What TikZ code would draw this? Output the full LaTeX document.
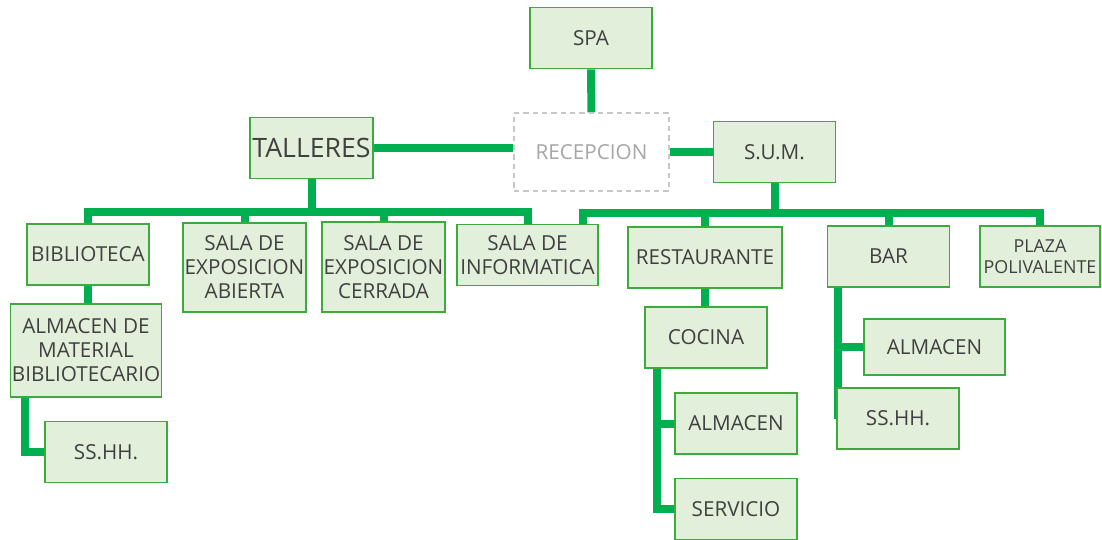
\documentclass[tikz,border=0pt]{standalone}
\usepackage{fontspec}
\setmainfont{Open Sans}
\usetikzlibrary{backgrounds}
\definecolor{boxfill}{HTML}{E2EFDA}
\definecolor{boxline}{HTML}{3DAA3D}
\definecolor{linkgreen}{HTML}{00B050}
\definecolor{textgray}{HTML}{404040}
\definecolor{ghostline}{HTML}{C8C8C8}
\definecolor{ghosttext}{HTML}{A6A6A6}

\begin{document}
\begin{tikzpicture}[x=0.75pt,y=-0.75pt]
\tikzset{
  orgbox/.style={rectangle,draw=boxline,fill=boxfill,line width=1pt,minimum width=91.5pt,minimum height=46pt,inner sep=1pt,align=center,text=textgray,font=\fontsize{15.5pt}{18pt}\selectfont},
  ghostbox/.style={orgbox,draw=ghostline,fill=white,text=ghosttext,dash pattern=on 4pt off 3pt},
  orglink/.style={draw=linkgreen,line width=6pt,line join=miter}
}
\useasboundingbox (0,0) rectangle (1102,539);
\node[orgbox] (n_spa) at (591,38) {SPA};
\node[orgbox,minimum width=92.25pt,font=\fontsize{20pt}{23pt}\selectfont] (n_talleres) at (311.5,148) {TALLERES};
\node[ghostbox,minimum width=116.25pt,minimum height=58.5pt,font=\fontsize{15.5pt}{18pt}\selectfont] (n_recepcion) at (591.5,152) {RECEPCION};
\node[orgbox] (n_sum) at (774.5,152) {S.U.M.};
\node[orgbox,minimum height=45.75pt] (n_biblioteca) at (88,254.5) {BIBLIOTECA};
\node[orgbox,minimum width=92.25pt,minimum height=66.75pt] (n_abierta) at (244.5,267.5) {SALA DE\\EXPOSICION\\ABIERTA};
\node[orgbox,minimum width=92.25pt,minimum height=67.5pt] (n_cerrada) at (383.5,267) {SALA DE\\EXPOSICION\\CERRADA};
\node[orgbox,minimum width=105.75pt] (n_informatica) at (527.5,255) {SALA DE\\INFORMATICA};
\node[orgbox,minimum width=115.5pt,minimum height=45.75pt] (n_restaurante) at (705,257.5) {RESTAURANTE};
\node[orgbox,minimum height=45.75pt] (n_bar) at (888.5,256.5) {BAR};
\node[orgbox,minimum width=90pt,minimum height=45.75pt,font=\fontsize{13.4pt}{15.75pt}\selectfont] (n_plaza) at (1040,256.5) {PLAZA\\POLIVALENTE};
\node[orgbox,minimum width=112.5pt,minimum height=69.75pt] (n_almmat) at (86,350.5) {ALMACEN DE\\MATERIAL\\BIBLIOTECARIO};
\node[orgbox] (n_sshh1) at (106,452) {SS.HH.};
\node[orgbox,minimum height=45.75pt] (n_cocina) at (706,337.5) {COCINA};
\node[orgbox,minimum height=45.75pt] (n_almacen2) at (736,423.5) {ALMACEN};
\node[orgbox] (n_servicio) at (736,509) {SERVICIO};
\node[orgbox,minimum width=105.75pt,minimum height=42pt] (n_almacen3) at (934.5,347) {ALMACEN};
\node[orgbox,minimum height=45.75pt] (n_sshh2) at (898,418.5) {SS.HH.};
\coordinate (c_busL) at (311.5,212);
\coordinate (c_busR) at (774.5,213);
\begin{pgfonlayer}{background}
\draw[orglink] (n_spa) -- (n_recepcion);
\draw[orglink] (n_talleres.east) -- (n_talleres.east -| n_recepcion.west);
\draw[orglink] (n_recepcion.east) -- (n_sum.west);
\draw[orglink] (n_talleres.south) -- (c_busL);
\draw[orglink] (n_biblioteca.north) |- (c_busL) -| (n_informatica.north);
\draw[orglink] (n_abierta.north) -- (n_abierta.north |- c_busL);
\draw[orglink] (n_cerrada.north) -- (n_cerrada.north |- c_busL);
\draw[orglink] (n_sum.south) -- (c_busR);
\draw[orglink] (n_informatica.north east) ++(-16,0) |- (c_busR) -| (n_plaza.north);
\draw[orglink] (n_restaurante.north) -- (n_restaurante.north |- c_busR);
\draw[orglink] (n_bar.north) -- (n_bar.north |- c_busR);
\draw[orglink] (n_biblioteca.south) -- (n_biblioteca.south |- n_almmat.north);
\draw[orglink] (n_almmat.south west) ++(15,0) |- (n_sshh1.west);
\draw[orglink] (n_restaurante.south) -- (n_restaurante.south |- n_cocina.north);
\draw[orglink] (n_cocina.south west) ++(13,0) |- (n_almacen2.west);
\draw[orglink] (n_cocina.south west) ++(13,0) |- (n_servicio.west);
\draw[orglink] (n_bar.south west) ++(11,0) |- (n_almacen3.west);
\draw[orglink] (n_bar.south west) ++(11,0) |- (n_sshh2.west);
\end{pgfonlayer}
\end{tikzpicture}
\end{document}
